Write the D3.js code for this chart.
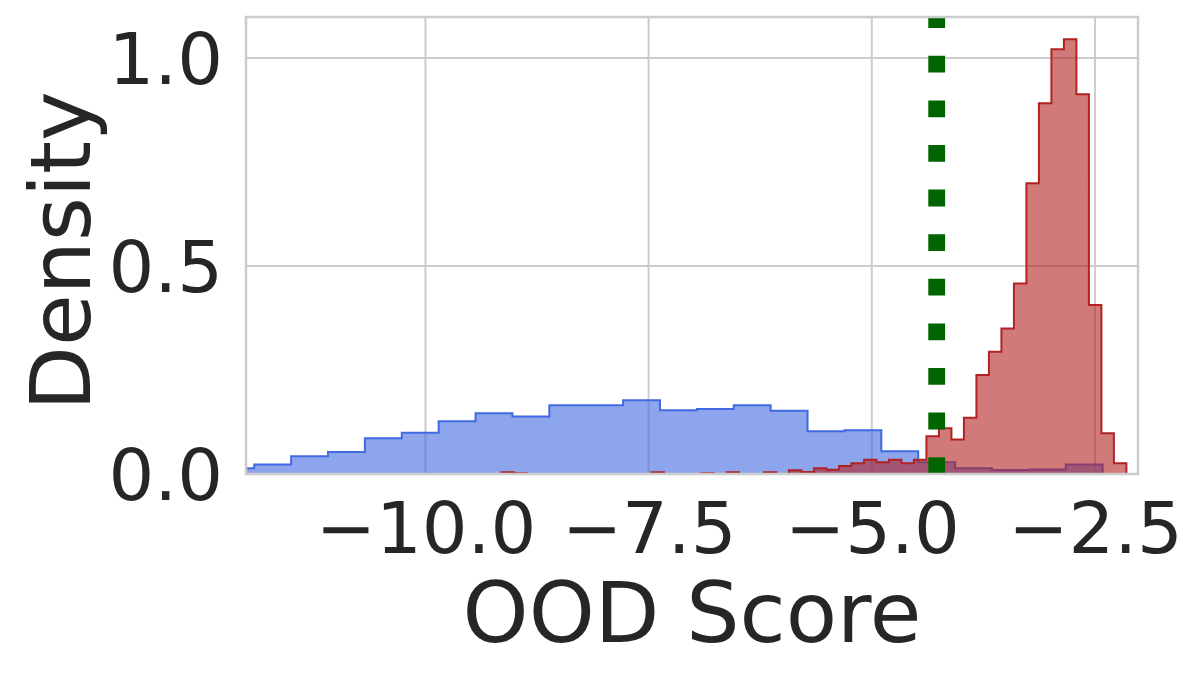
<!DOCTYPE html>
<html lang="en">
    <head>
        <meta charset="utf-8">
        <title>OOD Score</title>
        <script src="https://d3js.org/d3.v7.min.js"></script>
        <style>
            body { margin: 0; background: #ffffff; }
            text { font-family: "DejaVu Sans", sans-serif; fill: #262626; }
        </style>
    </head>
    <body>
        <script type="text/javascript">
            // histogram data (density per bin)
            var blueStart = -12.331;
            var blueWidth = 0.4132;
            var blueDensity = [0.0137, 0.023, 0.0425, 0.053, 0.086, 0.099, 0.127, 0.146, 0.138, 0.165,
                               0.165, 0.177, 0.153, 0.156, 0.165, 0.152, 0.103, 0.105, 0.0545, 0.028,
                               0.0137, 0.0096, 0.011, 0.023];

            var redStart = -9.148;
            var redWidth = 0.14;
            var redDensity = [0.004, 0.002, 0, 0, 0, 0, 0, 0, 0, 0,
                              0, 0, 0.004, 0, 0, 0, 0.002, 0, 0.004, 0,
                              0, 0.004, 0, 0.009, 0.005, 0.014, 0.010, 0.019, 0.026, 0.034,
                              0.028, 0.034, 0.026, 0.034, 0.091, 0.110, 0.083, 0.135, 0.238, 0.294,
                              0.350, 0.458, 0.699, 0.891, 1.021, 1.045, 0.913, 0.406, 0.098, 0.026];

            var threshold = -4.273;

            var xTicks = [-10.0, -7.5, -5.0, -2.5];
            var yTicks = [0.0, 0.5, 1.0];

            var width = 1200, height = 676;
            var plotLeft = 246, plotRight = 1138, plotTop = 17, plotBottom = 474;

            var svg = d3.select("body")
                .append("svg")
                .attr("width", width)
                .attr("height", height);

            var x = d3.scaleLinear().domain([-12.01, -2.018]).range([plotLeft, plotRight]);
            var y = d3.scaleLinear().domain([0, 1.0986]).range([plotBottom, plotTop]);

            svg.append("defs").append("clipPath")
                .attr("id", "plotclip")
                .append("rect")
                .attr("x", plotLeft).attr("y", plotTop)
                .attr("width", plotRight - plotLeft).attr("height", plotBottom - plotTop);

            // grid
            svg.selectAll("line.xgrid")
                .data(xTicks)
                .enter()
                .append("line")
                .attr("x1", function (d) { return x(d); })
                .attr("x2", function (d) { return x(d); })
                .attr("y1", plotTop).attr("y2", plotBottom)
                .attr("stroke", "#cccccc").attr("stroke-width", 2);

            svg.selectAll("line.ygrid")
                .data(yTicks)
                .enter()
                .append("line")
                .attr("x1", plotLeft).attr("x2", plotRight)
                .attr("y1", function (d) { return y(d); })
                .attr("y2", function (d) { return y(d); })
                .attr("stroke", "#cccccc").attr("stroke-width", 2);

            function histPoints(start, w, vals) {
                var pts = [[start, 0]];
                vals.forEach(function (v, i) {
                    pts.push([start + i * w, v]);
                    pts.push([start + (i + 1) * w, v]);
                });
                pts.push([start + vals.length * w, 0]);
                return pts;
            }

            var line = d3.line()
                .x(function (d) { return x(d[0]); })
                .y(function (d) { return y(d[1]); });

            var g = svg.append("g").attr("clip-path", "url(#plotclip)");

            var series = [
                {pts: histPoints(blueStart, blueWidth, blueDensity), color: "#4169e1"},
                {pts: histPoints(redStart, redWidth, redDensity), color: "#b22222"}
            ];

            series.forEach(function (s) {
                g.append("path")
                    .attr("d", line(s.pts) + "Z")
                    .attr("fill", s.color)
                    .attr("fill-opacity", 0.6)
                    .attr("stroke", s.color)
                    .attr("stroke-width", 2)
                    .attr("stroke-linejoin", "miter");
            });

            // threshold
            g.append("line")
                .attr("x1", x(threshold)).attr("x2", x(threshold))
                .attr("y1", plotBottom).attr("y2", plotTop)
                .attr("stroke", "#006400")
                .attr("stroke-width", 16.8)
                .attr("stroke-dasharray", "16.8 27.8");

            // spines
            svg.append("rect")
                .attr("x", plotLeft).attr("y", plotTop)
                .attr("width", plotRight - plotLeft).attr("height", plotBottom - plotTop)
                .attr("fill", "none")
                .attr("stroke", "#cccccc")
                .attr("stroke-width", 2.5);

            // axes
            var fmt = d3.format(".1f");

            var xAxis = svg.append("g")
                .attr("transform", "translate(0," + plotBottom + ")")
                .call(d3.axisBottom(x).tickValues(xTicks).tickFormat(fmt).tickSize(0).tickPadding(28));
            xAxis.select(".domain").remove();
            xAxis.selectAll("text").style("font-size", "72px").attr("fill", "#262626");

            var yAxis = svg.append("g")
                .attr("transform", "translate(" + plotLeft + ",0)")
                .call(d3.axisLeft(y).tickValues(yTicks).tickFormat(fmt).tickSize(0).tickPadding(23));
            yAxis.select(".domain").remove();
            yAxis.selectAll("text").style("font-size", "72px").attr("dy", "0.36em").attr("fill", "#262626");

            svg.append("text")
                .attr("x", (plotLeft + plotRight) / 2)
                .attr("y", 642)
                .attr("text-anchor", "middle")
                .style("font-size", "84px")
                .text("OOD Score");

            svg.append("text")
                .attr("transform", "translate(90,251) rotate(-90)")
                .attr("text-anchor", "middle")
                .style("font-size", "84px")
                .text("Density");
        </script>
    </body>
</html>
